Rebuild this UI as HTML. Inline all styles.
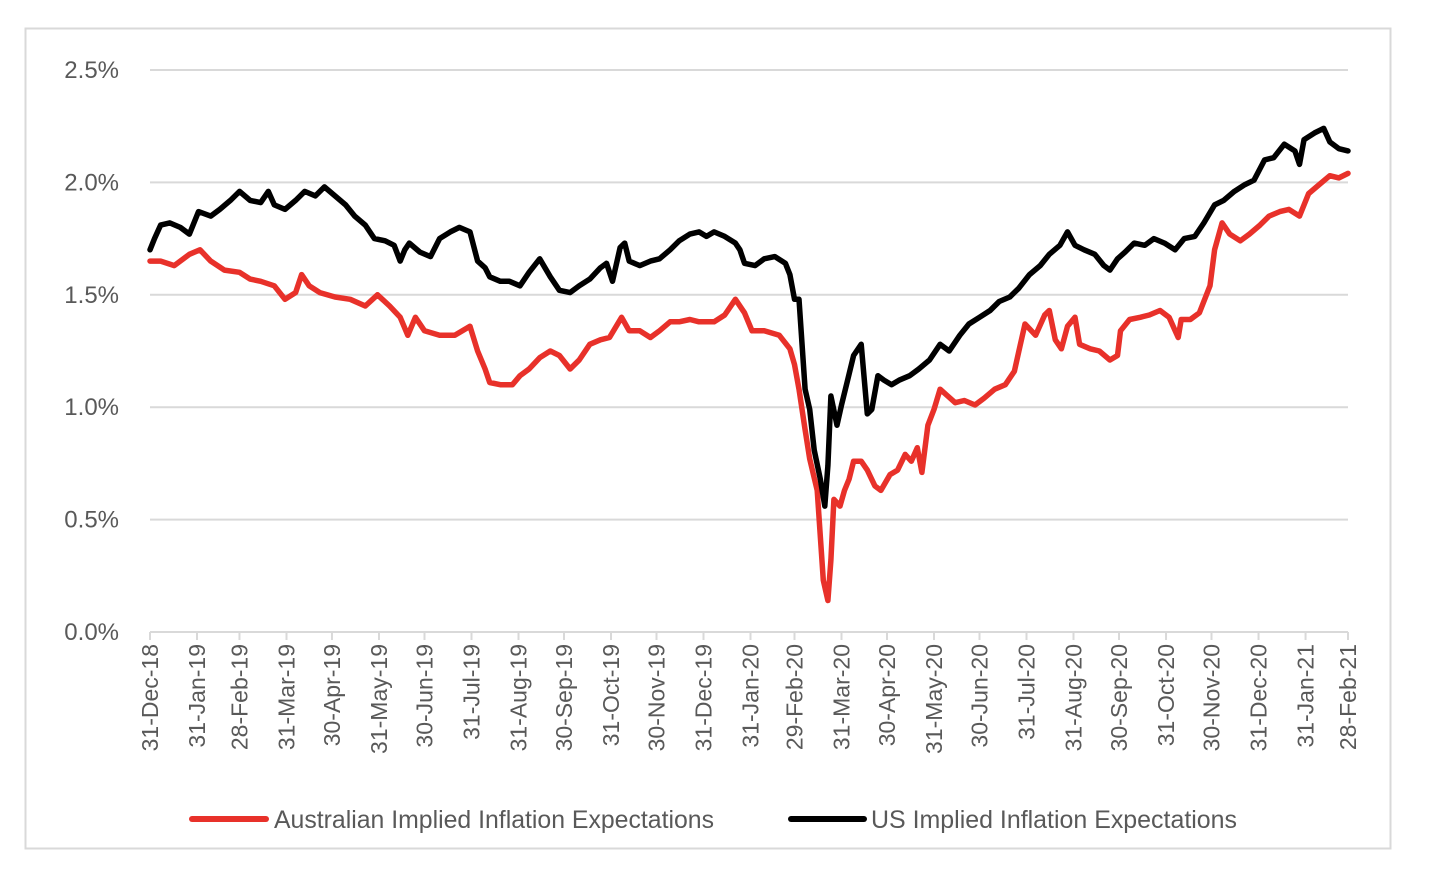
<!DOCTYPE html>
<html><head><meta charset="utf-8"><style>
html,body{margin:0;padding:0;background:#fff;}
svg{display:block;font-family:"Liberation Sans",sans-serif;}
</style></head><body>
<svg id="chart" width="1434" height="878" viewBox="0 0 1434 878" xmlns="http://www.w3.org/2000/svg">
<rect x="25.5" y="28.5" width="1365" height="820" fill="#fff" stroke="#d9d9d9" stroke-width="2"/>
<g id="grid"></g><g id="yaxis"></g><g id="xaxis"></g><g id="series"></g>
<g>
<line x1="192" y1="819" x2="266" y2="819" stroke="#e8312a" stroke-width="6" stroke-linecap="round"/>
<text x="274" y="828" font-size="25" fill="#595959" textLength="440" lengthAdjust="spacingAndGlyphs">Australian Implied Inflation Expectations</text>
<line x1="791" y1="819" x2="864" y2="819" stroke="#000" stroke-width="6" stroke-linecap="round"/>
<text x="871" y="828" font-size="25" fill="#595959" textLength="366" lengthAdjust="spacingAndGlyphs">US Implied Inflation Expectations</text>
</g>
</svg>
<script>
const tickLabels=["31-Dec-18","31-Jan-19","28-Feb-19","31-Mar-19","30-Apr-19","31-May-19","30-Jun-19","31-Jul-19","31-Aug-19","30-Sep-19","31-Oct-19","30-Nov-19","31-Dec-19","31-Jan-20","29-Feb-20","31-Mar-20","30-Apr-20","31-May-20","30-Jun-20","31-Jul-20","31-Aug-20","30-Sep-20","31-Oct-20","30-Nov-20","31-Dec-20","31-Jan-21","28-Feb-21"];
const tickDays=[0,31,59,90,120,151,181,212,243,273,304,334,365,396,425,456,486,517,547,578,609,639,670,700,731,762,790];
const yTicks=[0,0.5,1.0,1.5,2.0,2.5];
const auDays=[0,7,16,26,33,40,49,59,66,73,82,89,96,100,105,112,122,132,142,150,158,165,170,175,181,191,201,211,216,221,224,231,239,244,250,257,264,270,277,283,290,297,303,311,316,323,330,336,343,349,356,362,372,379,386,392,397,405,415,422,425,428,432,435,440,444,447,449,451,455,458,461,464,469,473,478,482,488,493,498,502,506,509,513,517,521,526,531,537,544,550,557,564,570,574,577,584,590,593,597,601,605,610,613,620,626,633,638,640,646,653,659,666,672,678,680,686,692,699,702,707,712,719,725,732,738,745,751,758,764,771,778,784,790];
const auVals=[1.65,1.65,1.63,1.68,1.70,1.65,1.61,1.60,1.57,1.56,1.54,1.48,1.51,1.59,1.54,1.51,1.49,1.48,1.45,1.50,1.45,1.40,1.32,1.40,1.34,1.32,1.32,1.36,1.25,1.17,1.11,1.10,1.10,1.14,1.17,1.22,1.25,1.23,1.17,1.21,1.28,1.30,1.31,1.40,1.34,1.34,1.31,1.34,1.38,1.38,1.39,1.38,1.38,1.41,1.48,1.42,1.34,1.34,1.32,1.26,1.19,1.08,0.90,0.77,0.63,0.23,0.14,0.32,0.59,0.56,0.63,0.68,0.76,0.76,0.72,0.65,0.63,0.70,0.72,0.79,0.76,0.82,0.71,0.92,0.99,1.08,1.05,1.02,1.03,1.01,1.04,1.08,1.10,1.16,1.28,1.37,1.32,1.41,1.43,1.30,1.26,1.36,1.40,1.28,1.26,1.25,1.21,1.23,1.34,1.39,1.40,1.41,1.43,1.40,1.31,1.39,1.39,1.42,1.54,1.70,1.82,1.77,1.74,1.77,1.81,1.85,1.87,1.88,1.85,1.95,1.99,2.03,2.02,2.04];
const usDays=[0,3,7,13,20,26,32,40,46,53,59,66,73,78,82,89,96,102,109,115,122,129,135,142,148,155,161,165,168,171,178,185,191,198,204,211,216,221,224,231,237,244,250,257,264,270,277,283,290,297,301,305,310,313,316,323,330,336,343,349,356,362,367,372,379,386,389,392,399,405,412,419,422,425,428,432,435,438,442,445,447,449,453,456,460,464,469,473,476,480,484,489,494,501,507,514,521,527,534,540,547,554,560,567,573,580,587,593,600,605,610,616,623,629,633,638,643,649,656,662,669,676,682,689,695,702,708,715,722,728,735,741,748,755,758,761,768,774,778,784,790];
const usVals=[1.70,1.75,1.81,1.82,1.80,1.77,1.87,1.85,1.88,1.92,1.96,1.92,1.91,1.96,1.90,1.88,1.92,1.96,1.94,1.98,1.94,1.90,1.85,1.81,1.75,1.74,1.72,1.65,1.70,1.73,1.69,1.67,1.75,1.78,1.80,1.78,1.65,1.62,1.58,1.56,1.56,1.54,1.60,1.66,1.58,1.52,1.51,1.54,1.57,1.62,1.64,1.56,1.71,1.73,1.65,1.63,1.65,1.66,1.70,1.74,1.77,1.78,1.76,1.78,1.76,1.73,1.70,1.64,1.63,1.66,1.67,1.64,1.59,1.48,1.48,1.08,0.99,0.81,0.68,0.56,0.74,1.05,0.92,1.01,1.12,1.23,1.28,0.97,0.99,1.14,1.12,1.10,1.12,1.14,1.17,1.21,1.28,1.25,1.32,1.37,1.40,1.43,1.47,1.49,1.53,1.59,1.63,1.68,1.72,1.78,1.72,1.70,1.68,1.63,1.61,1.66,1.69,1.73,1.72,1.75,1.73,1.70,1.75,1.76,1.82,1.90,1.92,1.96,1.99,2.01,2.10,2.11,2.17,2.14,2.08,2.19,2.22,2.24,2.18,2.15,2.14];

const NS="http://www.w3.org/2000/svg";
const X0=150,X1=1348,Y0=632,Y1=70,D=790,V=2.5;
function xs(d){return X0+(X1-X0)*d/D;}
function ys(v){return Y0-(Y0-Y1)*v/V;}
function mk(tag,attrs,parent){const e=document.createElementNS(NS,tag);for(const k in attrs)e.setAttribute(k,attrs[k]);parent.appendChild(e);return e;}
const grid=document.getElementById('grid'),ya=document.getElementById('yaxis'),xa=document.getElementById('xaxis'),se=document.getElementById('series');
yTicks.forEach(v=>{
  if(v>0){const g=mk('line',{x1:X0,x2:X1,y1:ys(v),y2:ys(v),stroke:'#d9d9d9','stroke-width':2},grid);
  
  }
  const t=mk('text',{x:119,y:ys(v)+8,'font-size':24,fill:'#595959','text-anchor':'end'},ya);
  t.textContent=v.toFixed(1)+'%';
  
  
});
const ax=mk('line',{x1:X0,x2:X1,y1:Y0,y2:Y0,stroke:'#d9d9d9','stroke-width':2},xa);


tickDays.forEach((d,i)=>{
  const x=xs(d);
  const tk=mk('line',{x1:x,x2:x,y1:Y0,y2:Y0+8,stroke:'#d9d9d9','stroke-width':2},xa);
  
  
  const t=mk('text',{x:0,y:0,'font-size':23,fill:'#595959','text-anchor':'end',transform:`translate(${x+8},${Y0+12}) rotate(-90)`},xa);
  t.textContent=tickLabels[i];
  
  
});
function line(days,vals,color,name){
  const p=days.map((d,i)=>(i?'L':'M')+xs(d).toFixed(1)+','+ys(vals[i]).toFixed(1)).join('');
  const e=mk('path',{d:p,fill:'none',stroke:color,'stroke-width':5.5,'stroke-linejoin':'round','stroke-linecap':'round'},se);
  
  
}
line(auDays,auVals,'#e8312a','australia-series-line');
line(usDays,usVals,'#000000','us-series-line');
</script>
</body></html>
